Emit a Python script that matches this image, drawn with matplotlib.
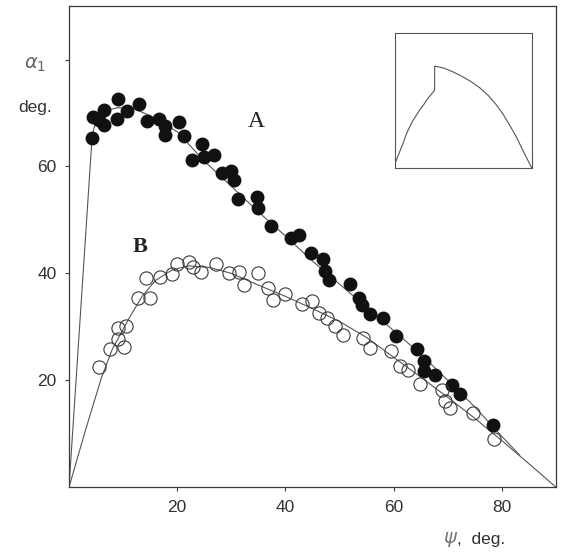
import numpy as np
import matplotlib
matplotlib.use("Agg")
import matplotlib.pyplot as plt

# measured points, curve A (filled)
psi_a = [4.2, 4.5, 5.5, 6.4, 6.4, 8.8, 9.1, 10.8, 13.0, 14.4, 16.7, 17.8, 17.8,
         20.4, 21.2, 22.8, 24.6, 25.0, 26.8, 28.2, 29.9, 30.5, 31.3, 34.8, 35.0,
         37.3, 41.0, 42.6, 44.7, 47.0, 47.3, 48.1, 51.9, 53.6, 54.1, 55.7, 58.1,
         60.5, 64.4, 65.7, 65.7, 67.6, 70.7, 72.2, 78.3]
alpha_a = [65.3, 69.2, 68.6, 70.5, 67.7, 68.8, 72.7, 70.4, 71.6, 68.5, 68.9, 67.5, 65.8,
           68.4, 65.7, 61.3, 64.2, 61.8, 62.2, 58.7, 59.1, 57.5, 53.9, 54.2, 52.3,
           48.9, 46.6, 47.2, 43.9, 42.6, 40.4, 38.7, 38.1, 35.4, 34.0, 32.4, 31.7,
           28.2, 25.8, 23.7, 21.7, 21.0, 19.2, 17.4, 11.6]

# measured points, curve B (open)
psi_b = [5.6, 7.6, 9.1, 9.1, 10.2, 10.6, 12.8, 14.2, 15.0, 16.8, 19.0, 19.9, 22.1,
         22.9, 24.4, 27.2, 29.6, 31.5, 32.4, 35.0, 36.8, 37.7, 39.9, 43.0, 44.9,
         46.2, 47.6, 49.1, 50.6, 54.4, 55.7, 59.6, 61.2, 62.7, 64.9, 68.9, 69.5,
         70.5, 74.6, 78.5]
alpha_b = [22.5, 25.8, 29.7, 27.8, 26.3, 30.2, 35.4, 39.2, 35.4, 39.3, 39.9, 41.7, 42.2,
           41.1, 40.2, 41.7, 40.0, 40.3, 37.9, 40.1, 37.3, 35.1, 36.1, 34.2, 34.9,
           32.6, 31.7, 30.2, 28.5, 27.9, 26.0, 25.5, 22.6, 22.0, 19.3, 18.2, 16.2,
           14.8, 13.8, 9.0]

# fitted curves
fit_a_x = [0, 4.3, 5, 6, 7, 9, 12, 15, 20, 25, 30, 35, 40, 45, 50, 55, 60, 65, 70, 75, 80, 83.3]
fit_a_y = [0, 66, 68.5, 69.8, 70.5, 71, 70.8, 69.5, 66.5, 61, 56.3, 51.5, 47, 42.3, 38, 33.6,
           29.3, 24.9, 20, 15, 9.5, 6]
fit_b_x = [0, 3, 6, 8, 11, 13.5, 16, 19, 22, 26, 30, 35, 40, 45, 50, 55, 60, 65, 70, 75, 80, 85, 90]
fit_b_y = [0, 10.5, 20.5, 25.8, 31.4, 35.7, 38.7, 40.6, 41.4, 41.1, 40, 37.8, 35.7, 33.4, 31,
           28, 24.3, 20.6, 16.8, 12.9, 8.7, 4.4, 0]

# inset sketch (normalised)
inset_x = [0, 0.02, 0.04, 0.06, 0.085, 0.11, 0.13, 0.155, 0.18, 0.21, 0.235, 0.26, 0.29,
           0.29, 0.32, 0.36, 0.42, 0.48, 0.55, 0.62, 0.68, 0.74, 0.79, 0.84, 0.89, 0.94, 1.0]
inset_y = [0.03, 0.085, 0.135, 0.185, 0.257, 0.31, 0.35, 0.39, 0.43, 0.47, 0.51, 0.54, 0.578,
           0.756, 0.75, 0.74, 0.715, 0.685, 0.645, 0.595, 0.54, 0.47, 0.40, 0.315, 0.225, 0.12, 0.0]

ink = "#3a3a3a"
plt.rcParams["font.family"] = ["Liberation Sans", "DejaVu Sans"]

fig = plt.figure(figsize=(5.61, 5.53), dpi=100)
ax = fig.add_axes([0.123, 0.119, 0.868, 0.870])

ax.plot(fit_a_x, fit_a_y, color="#555555", lw=0.8)
ax.plot(fit_b_x, fit_b_y, color="#555555", lw=0.8)
ax.plot(psi_a, alpha_a, "o", ms=9, color="#111111", mec="#111111")
ax.plot(psi_b, alpha_b, "o", ms=9.5, mfc="none", mec=ink, mew=0.8)

ax.set_xlim(0, 90)
ax.set_ylim(0, 90)
ax.set_xticks([20, 40, 60, 80])
ax.set_yticks([20, 40, 60, 80])
ax.set_yticklabels(["20", "40", "60", ""])
for s in ax.spines.values():
    s.set_color(ink)
    s.set_linewidth(0.9)
ax.tick_params(direction="out", length=3, width=0.8, color=ink, labelsize=12.5,
               labelcolor="#333333", pad=6)

ax.text(33.0, 67.3, "A", family="Liberation Serif", fontsize=17, color="#222222")
ax.text(11.8, 44.0, "B", family="Liberation Serif", fontsize=16, color="#222222",
        fontweight="bold")

fig.text(0.063, 0.882, r"$\alpha_1$", fontsize=14, color="#666666", ha="center", va="center")
fig.text(0.032, 0.805, "deg.", fontsize=12.5, color="#333333", va="center")
fig.text(0.79, 0.025, r"$\psi$", fontsize=14, color="#777777", va="center")
fig.text(0.815, 0.025, ",  deg.", fontsize=12.5, color="#333333", va="center")

ins = fig.add_axes([0.704, 0.696, 0.244, 0.244])
ins.plot(inset_x, inset_y, color="#555555", lw=0.8)
ins.set_xlim(0, 1)
ins.set_ylim(0, 1)
ins.set_xticks([])
ins.set_yticks([])
for s in ins.spines.values():
    s.set_color("#555555")
    s.set_linewidth(0.8)

fig.savefig("out.png", dpi=100)
